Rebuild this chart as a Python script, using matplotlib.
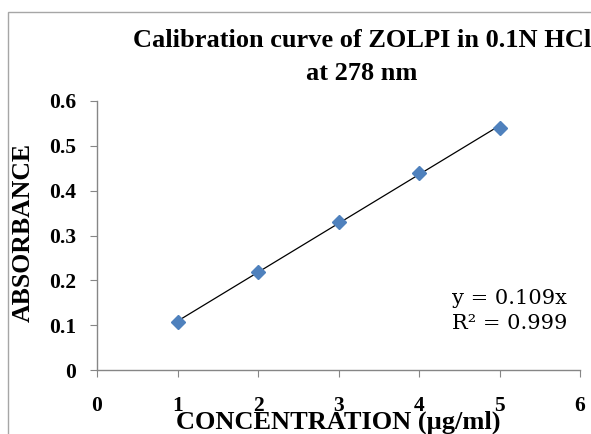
import numpy as np
import matplotlib
matplotlib.use("Agg")
import matplotlib.pyplot as plt
from matplotlib.patches import Rectangle

conc = [1, 2, 3, 4, 5]
absorb = [0.107, 0.219, 0.330, 0.440, 0.540]
x_ticks = [0, 1, 2, 3, 4, 5, 6]
y_ticks = [0, 0.1, 0.2, 0.3, 0.4, 0.5, 0.6]
y_tick_labels = ["0", "0.1", "0.2", "0.3", "0.4", "0.5", "0.6"]
title = "Calibration curve of ZOLPI in 0.1N HCl\nat 278 nm"
equation = "y = 0.109x\nR\u00b2 = 0.999"

serif = ["Liberation Serif", "DejaVu Serif"]

fig = plt.figure(figsize=(5.91, 4.34), dpi=100)
fig.patch.set_facecolor("white")

# chart border (partially visible)
fig.patches.append(Rectangle((8 / 591, -0.1), 1.1, 1 - 12 / 434 + 0.1,
                             transform=fig.transFigure, fill=False,
                             edgecolor="#a6a6a6", linewidth=1.0))

ax = fig.add_axes([97 / 591, 1 - 370 / 434, (580 - 97) / 591, (370 - 101) / 434])

xa = np.array(conc, dtype=float)
ya = np.array(absorb, dtype=float)
slope = np.sum(xa * ya) / np.sum(xa * xa)
xl = np.array([xa.min(), xa.max()])
ax.plot(xl, slope * xl, color="black", linewidth=0.9, zorder=2)
ax.plot(conc, absorb, linestyle="none", marker="D", markersize=7.5,
        color="#4F81BD", markeredgecolor="#4F81BD", zorder=3)

ax.set_xlim(0, 6)
ax.set_ylim(0, 0.6)
ax.set_xticks(x_ticks)
ax.set_xticklabels([str(v) for v in x_ticks], fontfamily=serif,
                   fontweight="bold", fontsize=15.5)
ax.set_yticks(y_ticks)
ax.set_yticklabels(y_tick_labels, fontfamily=serif, fontweight="bold", fontsize=15.5)
ax.tick_params(axis="x", direction="out", length=5, color="#868686", pad=14)
ax.tick_params(axis="y", direction="out", length=5, color="#868686", pad=10)

for s in ["top", "right"]:
    ax.spines[s].set_visible(False)
for s in ["left", "bottom"]:
    ax.spines[s].set_color("#868686")
    ax.spines[s].set_linewidth(1.0)

ax.set_xlabel("CONCENTRATION (\u00b5g/ml)", fontfamily=serif, fontweight="bold",
              fontsize=19, labelpad=-4)
ax.set_ylabel("ABSORBANCE", fontfamily=serif, fontweight="bold", fontsize=18.5)
ax.yaxis.set_label_coords(-0.128, 0.513)

fig.text(362 / 591, 1 - 57 / 434, title, ha="center", va="center",
         fontfamily=serif, fontweight="bold", fontsize=19, linespacing=1.55)

fig.text(452 / 591, 1 - 311 / 434, equation, ha="left", va="center",
         fontfamily=["DejaVu Serif"], fontsize=15, linespacing=1.45)

fig.savefig("out.png", dpi=100)
